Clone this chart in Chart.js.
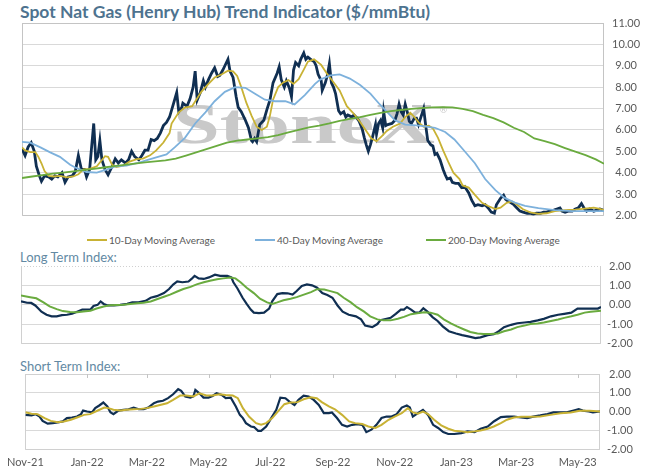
<!DOCTYPE html>
<html>
<head>
<meta charset="utf-8">
<script src="https://cdn.jsdelivr.net/npm/chart.js@4.4.1/dist/chart.umd.min.js"></script>
<style>
  body { margin: 0; background: #fff; font-family: Lato, "Noto Sans", sans-serif; }
  #wrap { position: relative; width: 647px; height: 471px; overflow: hidden; }
  #wrap canvas { position: absolute; left: 0; }
  .title { position: absolute; left: 20px; top: 1px; font-size: 17.5px; font-weight: bold; color: #4e738f; white-space: nowrap; }
  .sub { position: absolute; left: 20px; font-size: 13px; color: #6289a3; white-space: nowrap; }
  .legend { position: absolute; top: 233px; font-size: 10px; color: #595959; white-space: nowrap; line-height: 14px; }
  .legend i { display: inline-block; width: 20px; height: 2px; vertical-align: middle; margin-right: 2px; position: relative; top: -1px; }
</style>
</head>
<body>
<div id="wrap">
  <div class="title">Spot Nat Gas (Henry Hub) Trend Indicator ($/mmBtu)</div>
  <canvas id="mainChart" width="647" height="230" style="top:0"></canvas>
  <div id="legend"></div>
  <div class="sub" style="top:249px">Long Term Index:</div>
  <canvas id="longChart" width="647" height="106" style="top:250px"></canvas>
  <div class="sub" style="top:358px">Short Term Index:</div>
  <canvas id="shortChart" width="647" height="111" style="top:360px"></canvas>
</div>
<script>
// x values are days counted from 1 Nov 2021
const monthDays = [0, 61, 120, 181, 242, 304, 365, 426, 485, 546];
const monthLabels = ['Nov-21', 'Jan-22', 'Mar-22', 'May-22', 'Jul-22', 'Sep-22', 'Nov-22', 'Jan-23', 'Mar-23', 'May-23'];
const lastDay = 568;

// spot price ($/mmBtu)
const spotDays = [0,3,6,9,12,14,17,19,22,26,29,32,35,39,42,45,49,52,55,58,61,63,66,70,72,74,76,78,81,84,88,91,94,97,101,104,107,110,114,117,120,123,126,129,132,135,138,141,144,148,151,153,156,157,161,164,167,169,171,174,177,179,182,185,188,191,193,196,198,201,203,206,209,211,214,218,221,224,225,227,229,232,236,239,242,245,249,251,253,256,258,261,263,265,267,270,272,275,277,279,283,285,287,289,292,293,296,298,300,302,304,306,309,311,314,316,318,322,324,327,329,332,334,336,338,340,342,345,346,348,350,352,353,355,357,361,364,366,368,370,372,374,376,378,380,383,385,387,389,391,392,394,396,399,401,403,405,408,411,413,415,418,420,423,426,429,432,436,439,442,445,449,452,455,458,461,463,467,470,472,475,477,480,483,486,489,493,496,499,502,506,509,512,515,519,522,525,527,530,533,537,540,543,546,549,551,554,558,561,564,567];
const spot = [5.1,4.8,5.2,5.4,5.0,4.3,3.85,3.6,3.85,3.8,3.7,3.85,3.8,4.0,3.55,3.8,3.85,4.05,4.8,4.15,4.15,3.8,4.15,6.3,4.6,4.75,5.5,4.6,4.15,3.9,4.3,4.65,4.45,4.6,4.45,4.6,5.0,4.75,4.6,4.8,5.05,5.05,5.55,5.5,5.6,5.85,6.2,6.35,6.6,7.25,7.75,6.85,7.05,7.25,7.1,7.45,8.0,8.75,7.4,7.75,8.3,8.0,8.35,8.65,8.9,8.5,8.55,8.8,9.0,9.3,8.75,8.45,7.55,7.05,6.85,6.45,6.1,5.5,5.45,5.6,5.45,6.25,6.45,6.95,7.4,8.2,8.65,8.95,8.35,8.0,8.3,7.95,7.55,8.8,9.15,9.0,9.3,9.6,9.3,9.4,9.25,9.2,9.0,8.6,8.3,7.85,8.2,8.55,9.1,8.2,8.0,7.7,6.9,6.75,6.85,6.6,6.7,6.6,6.7,6.55,6.4,6.05,5.65,5.3,5.0,5.3,5.65,6.25,5.8,6.3,6.45,6.1,6.85,6.2,6.25,6.3,6.45,6.75,7.2,6.85,6.7,7.2,6.85,6.4,6.3,6.55,6.55,6.25,6.55,6.85,7.0,6.2,5.5,5.3,5.25,4.85,4.9,4.6,4.15,3.9,3.7,3.75,3.55,3.5,3.5,3.3,3.35,3.05,2.7,2.45,2.5,2.45,2.5,2.35,2.15,2.1,2.5,2.8,2.95,2.75,2.65,2.6,2.5,2.35,2.2,2.15,2.1,2.1,2.05,2.1,2.1,2.15,2.15,2.2,2.25,2.3,2.35,2.2,2.15,2.2,2.2,2.3,2.35,2.55,2.3,2.2,2.3,2.2,2.25,2.3,2.25];

// 10-day moving average
const ma10Days = [0,3,8,13,16,19,22,26,31,37,44,50,55,60,66,73,78,81,84,88,92,99,105,112,118,125,131,138,144,146,153,159,166,171,175,182,188,195,201,206,210,214,219,224,229,234,239,242,245,250,255,260,265,270,275,279,285,292,297,304,310,317,323,330,336,341,346,351,356,362,369,374,379,383,387,392,397,401,406,411,416,421,427,430,436,442,449,455,462,467,473,478,483,489,496,504,512,520,530,540,549,558,564,568];
const ma10 = [5.18,5.04,4.96,4.96,4.74,4.44,4.07,3.85,3.82,3.85,3.78,3.82,3.92,4.15,4.18,4.3,4.59,4.77,4.74,4.37,4.26,4.33,4.52,4.63,4.66,4.81,5.04,5.41,5.85,6.3,6.82,7.04,7.11,7.48,7.78,8.15,8.45,8.6,8.77,8.74,8.52,8.0,7.26,6.67,6.15,6.0,6.15,6.67,7.41,8.0,8.22,8.33,8.15,8.37,8.82,9.19,9.3,9.04,8.67,8.23,7.85,7.11,6.8,6.37,5.95,5.6,5.47,5.7,5.95,6.15,6.3,6.6,6.8,6.6,6.35,6.15,6.2,6.07,5.63,5.04,4.5,4.0,3.7,3.4,3.3,2.96,2.59,2.44,2.3,2.36,2.59,2.66,2.51,2.29,2.14,2.07,2.1,2.2,2.25,2.27,2.32,2.36,2.3,2.25];

// 40-day moving average
const ma40Days = [0,8,18,27,37,47,53,63,73,83,92,102,112,122,131,141,149,159,169,179,188,198,208,218,227,237,247,257,266,276,286,291,301,310,320,330,340,349,356,364,374,388,403,413,422,432,442,452,462,471,481,491,504,520,537,552,568];
const ma40 = [5.44,5.4,5.18,4.96,4.74,4.37,4.22,4.03,4.0,4.15,4.3,4.33,4.44,4.59,4.71,4.85,5.18,5.63,6.3,6.82,7.34,7.78,8.0,7.97,7.7,7.41,7.34,7.34,7.19,7.63,8.15,8.35,8.55,8.6,8.4,8.1,7.7,7.2,6.85,6.45,6.25,6.2,6.1,5.9,5.55,5.0,4.44,3.7,3.18,2.82,2.6,2.45,2.34,2.25,2.2,2.2,2.2];

// 200-day moving average
const ma200Days = [0,10,20,30,40,50,60,70,80,90,100,110,120,130,140,150,160,170,180,190,200,210,220,230,240,250,260,270,280,290,300,310,320,330,340,350,360,370,380,390,400,410,420,430,440,450,460,470,480,490,500,510,520,530,540,550,560,568];
const ma200 = [3.75,3.82,3.88,3.95,4.0,4.06,4.12,4.18,4.24,4.3,4.36,4.42,4.48,4.53,4.57,4.66,4.8,4.95,5.1,5.25,5.4,5.5,5.55,5.6,5.66,5.75,5.88,6.0,6.12,6.2,6.3,6.42,6.52,6.6,6.7,6.8,6.88,6.93,6.98,7.02,7.05,7.06,7.05,6.98,6.88,6.7,6.55,6.35,6.1,5.9,5.6,5.47,5.33,5.15,4.98,4.82,4.62,4.42];

// long term index
const longDays = [0,6,10,14,17,20,25,30,35,40,45,50,55,60,64,68,71,75,78,81,85,91,97,104,109,115,122,127,133,140,145,149,153,158,164,167,170,174,179,184,190,195,202,206,208,212,217,221,225,228,233,238,243,246,251,256,261,266,270,275,280,285,290,295,300,305,310,315,321,328,333,337,344,349,352,357,362,367,372,375,378,382,386,390,394,398,403,408,413,419,426,432,439,445,450,457,463,468,473,480,486,493,499,506,512,519,526,532,539,545,552,558,565,568];
const longIdx = [0.17,0.1,0.09,-0.04,-0.2,-0.36,-0.52,-0.6,-0.6,-0.54,-0.52,-0.47,-0.36,-0.25,-0.25,-0.25,-0.07,-0.01,0.17,0.04,-0.04,-0.04,-0.01,0.04,0.12,0.12,0.2,0.36,0.44,0.6,0.81,1.04,1.2,1.16,1.2,1.33,1.49,1.36,1.33,1.41,1.55,1.49,1.49,1.41,1.16,0.84,0.36,0.04,-0.25,-0.41,-0.44,-0.41,-0.2,0.17,0.55,0.6,0.59,0.52,0.71,0.97,1.05,1.0,0.88,0.6,0.5,0.36,-0.04,-0.36,-0.52,-0.6,-0.76,-1.08,-1.16,-1.0,-0.8,-0.74,-0.68,-0.47,-0.25,-0.25,-0.12,-0.25,-0.41,-0.41,-0.18,-0.36,-0.64,-0.84,-1.12,-1.37,-1.49,-1.57,-1.65,-1.73,-1.69,-1.57,-1.52,-1.37,-1.16,-1.04,-0.96,-0.92,-0.89,-0.81,-0.73,-0.6,-0.52,-0.47,-0.41,-0.2,-0.2,-0.2,-0.2,-0.12];
const longAvgDays = [0,9,15,22,28,35,41,48,55,61,68,74,81,87,94,100,107,114,120,127,133,140,146,153,159,166,172,179,185,192,198,205,210,215,221,228,234,241,246,251,257,264,270,277,284,290,297,303,310,316,323,329,336,342,349,355,362,369,375,382,388,395,401,408,414,421,427,434,440,447,453,460,467,473,480,486,493,499,506,512,519,526,532,539,545,552,558,568];
const longAvg = [0.47,0.39,0.33,0.12,-0.09,-0.23,-0.33,-0.38,-0.39,-0.35,-0.31,-0.2,-0.09,-0.03,-0.01,0.0,0.04,0.07,0.1,0.17,0.28,0.41,0.52,0.68,0.81,0.92,1.05,1.16,1.24,1.31,1.36,1.41,1.36,1.16,0.88,0.6,0.31,0.12,0.04,0.12,0.23,0.31,0.39,0.52,0.65,0.8,0.78,0.7,0.6,0.36,0.12,-0.13,-0.36,-0.6,-0.76,-0.81,-0.81,-0.73,-0.63,-0.49,-0.44,-0.39,-0.41,-0.52,-0.76,-0.96,-1.12,-1.28,-1.41,-1.49,-1.52,-1.52,-1.49,-1.37,-1.28,-1.16,-1.08,-1.0,-0.97,-0.92,-0.84,-0.76,-0.68,-0.6,-0.52,-0.41,-0.36,-0.31];

// short term index
const shortDays = [0,6,10,14,17,22,27,32,37,41,46,51,55,57,61,66,69,73,77,81,84,87,92,97,102,107,112,117,122,127,131,136,141,146,151,154,158,163,166,168,172,176,181,185,189,194,198,203,208,212,215,218,223,226,230,233,238,243,248,252,257,261,266,270,275,280,285,290,295,300,303,308,313,318,323,328,333,337,342,347,352,357,362,367,372,377,380,383,388,393,398,403,408,413,418,424,431,437,444,450,457,463,470,476,483,490,496,502,509,516,522,529,535,541,547,551,557,561,568];
const shortIdx = [-0.18,-0.21,-0.14,-0.27,-0.5,-0.65,-0.62,-0.58,-0.53,-0.35,-0.32,-0.27,-0.14,0.05,0.0,-0.04,0.18,0.32,0.48,0.27,-0.04,-0.14,0.05,0.09,0.12,0.21,0.12,0.12,0.23,0.44,0.53,0.57,0.71,0.92,1.19,1.1,0.8,0.74,0.8,1.15,0.97,0.74,0.74,0.83,0.97,0.88,0.71,0.74,0.27,-0.18,-0.35,-0.62,-0.8,-0.83,-1.03,-1.03,-0.8,-0.35,0.09,0.74,0.71,0.53,0.35,0.62,0.85,0.8,0.62,0.35,-0.09,-0.09,-0.05,-0.35,-0.71,-0.8,-0.71,-0.67,-0.71,-1.1,-0.97,-0.71,-0.35,-0.27,-0.27,-0.14,0.21,0.32,0.21,-0.27,-0.09,0.09,-0.18,-0.71,-0.88,-1.1,-1.2,-1.2,-1.15,-1.06,-1.1,-0.92,-0.8,-0.53,-0.3,-0.27,-0.27,-0.32,-0.35,-0.27,-0.21,-0.14,-0.05,-0.05,-0.04,0.04,0.12,0.05,0.0,-0.05,0.0];
const shortAvgDays = [0,6,12,19,25,32,38,45,51,58,64,71,78,82,87,94,100,107,114,120,127,133,140,146,153,159,166,172,179,185,192,198,205,210,215,221,228,233,238,244,251,256,262,269,275,282,288,293,300,306,313,320,326,333,339,346,352,359,365,372,378,383,388,393,398,404,411,418,424,431,437,444,450,457,463,470,476,483,490,499,509,519,529,539,548,558,568];
const shortAvg = [-0.04,-0.12,-0.14,-0.35,-0.5,-0.57,-0.53,-0.44,-0.32,-0.18,-0.14,0.04,0.21,0.18,0.09,0.05,0.09,0.12,0.14,0.18,0.27,0.35,0.44,0.62,0.85,0.85,0.8,0.97,0.85,0.85,0.92,0.88,0.85,0.71,0.18,-0.27,-0.62,-0.71,-0.62,-0.35,0.09,0.39,0.48,0.5,0.65,0.76,0.71,0.5,0.27,0.12,-0.18,-0.53,-0.62,-0.67,-0.8,-0.88,-0.71,-0.44,-0.27,-0.09,0.18,-0.05,-0.12,0.0,-0.14,-0.44,-0.74,-0.92,-1.03,-1.06,-1.1,-1.06,-1.01,-0.92,-0.8,-0.62,-0.44,-0.32,-0.28,-0.28,-0.27,-0.18,-0.09,-0.05,0.04,0.04,0.0];

const NAVY = '#102f52', GOLD = '#c8b234', BLUE = '#7db1dc', GREEN = '#6aab3f';
const tickFont = { family: 'Lato', size: 11 };
const tickColor = '#595959';

const pts = (xs, ys) => xs.map((x, i) => ({ x: x, y: ys[i] }));

function line(label, xs, ys, color, width, order) {
    return { label: label, data: pts(xs, ys), borderColor: color, backgroundColor: color,
             borderWidth: width, pointRadius: 0, tension: 0, order: order };
}

// box round the plot area, top edge can be dotted
const framePlugin = {
    id: 'frame',
    beforeDatasetsDraw(chart, args, opts) {
        const { ctx, chartArea: a } = chart;
        ctx.save();
        ctx.strokeStyle = opts.color || '#c4c4c4';
        ctx.lineWidth = 1;
        ctx.beginPath();
        ctx.moveTo(Math.round(a.left) + 0.5, a.top);
        ctx.lineTo(Math.round(a.left) + 0.5, Math.round(a.bottom) + 0.5);
        ctx.lineTo(Math.round(a.right) - 0.5, Math.round(a.bottom) + 0.5);
        ctx.lineTo(Math.round(a.right) - 0.5, a.top);
        ctx.stroke();
        ctx.setLineDash(opts.topDash || []);
        ctx.beginPath();
        ctx.moveTo(a.left, Math.round(a.top) + 0.5);
        ctx.lineTo(a.right, Math.round(a.top) + 0.5);
        ctx.stroke();
        ctx.restore();
    }
};

// grey watermark behind the lines
const watermark = {
    id: 'watermark',
    beforeDatasetsDraw(chart) {
        const { ctx, chartArea: a } = chart;
        ctx.save();
        ctx.font = 'bold 58px "Liberation Serif"';
        ctx.fillStyle = '#c9c9c9';
        const w = ctx.measureText('StoneX').width;
        ctx.translate(a.left + 151, a.top + 120);
        ctx.scale(262 / w, 1);
        ctx.fillText('StoneX', 0, 0);
        ctx.restore();
        ctx.save();
        ctx.font = '9px "DejaVu Sans"';
        ctx.fillStyle = '#c9c9c9';
        ctx.fillText('\u00ae', a.left + 417, a.top + 90);
        ctx.restore();
    }
};

// little tick marks hanging from the top edge of the short panel
const topTicks = {
    id: 'topTicks',
    beforeDatasetsDraw(chart) {
        const { ctx, chartArea: a, scales } = chart;
        ctx.save();
        ctx.strokeStyle = '#c4c4c4';
        ctx.lineWidth = 1;
        monthDays.slice(1).forEach(d => {
            const px = Math.round(scales.x.getPixelForValue(d)) + 0.5;
            ctx.beginPath();
            ctx.moveTo(px, a.top);
            ctx.lineTo(px, a.top + 4);
            ctx.stroke();
        });
        ctx.restore();
    }
};

function yAxis(min, max, width, pad, hideTop) {
    return {
        position: 'right', min: min, max: max,
        afterFit(s) { s.width = width; },
        ticks: { stepSize: 1, font: tickFont, color: tickColor, padding: pad, crossAlign: 'center',
                 callback: v => v.toFixed(2) },
        grid: { drawTicks: false,
                color: c => (hideTop && c.tick && c.tick.value === max) ? 'rgba(0,0,0,0)' : '#d9d9d9' },
        border: { display: false }
    };
}

function baseOptions(padding, yOpts, xOpts, frameOpts) {
    return {
        responsive: false, animation: false, events: [],
        layout: { padding: padding },
        scales: { x: xOpts, y: yOpts },
        plugins: { legend: { display: false }, tooltip: { enabled: false }, frame: frameOpts }
    };
}

const hiddenX = { type: 'linear', min: 0, max: lastDay, display: false };

// main price chart
const mainSets = [
    line('Spot', spotDays, spot, NAVY, 2.8, 4),
    line('10-Day Moving Average', ma10Days, ma10, GOLD, 1.8, 3),
    line('40-Day Moving Average', ma40Days, ma40, BLUE, 1.8, 2),
    line('200-Day Moving Average', ma200Days, ma200, GREEN, 1.8, 1)
];
new Chart(document.getElementById('mainChart'), {
    type: 'line',
    data: { datasets: mainSets },
    options: baseOptions({ top: 23, left: 22, right: 0, bottom: 5 }, yAxis(2, 11, 43, 8, false), hiddenX, { color: '#c4c4c4' }),
    plugins: [framePlugin, watermark]
});

// legend for the moving averages
const legendLefts = [87, 255, 426];
const legendBox = document.getElementById('legend');
mainSets.slice(1).forEach((ds, i) => {
    const item = document.createElement('div');
    item.className = 'legend';
    item.style.left = legendLefts[i] + 'px';
    item.innerHTML = '<i style="background:' + ds.borderColor + '"></i>' + ds.label;
    legendBox.appendChild(item);
});

// long term index
new Chart(document.getElementById('longChart'), {
    type: 'line',
    data: { datasets: [
        line('Long Term Index', longDays, longIdx, NAVY, 2.2, 2),
        line('Long Term Average', longAvgDays, longAvg, GREEN, 2, 1)
    ] },
    options: baseOptions({ top: 16, left: 21, right: 0, bottom: 7 }, yAxis(-2, 2, 46, 6, true), hiddenX, { color: '#d0d0d0', topDash: [1, 2] }),
    plugins: [framePlugin]
});

// short term index
new Chart(document.getElementById('shortChart'), {
    type: 'line',
    data: { datasets: [
        line('Short Term Index', shortDays, shortIdx, NAVY, 2.2, 2),
        line('Short Term Average', shortAvgDays, shortAvg, GOLD, 2, 1)
    ] },
    options: baseOptions({ top: 14, left: 21, right: 0, bottom: 2 }, yAxis(-2, 2, 47, 7, false), {
        type: 'linear', min: 0, max: lastDay,
        afterFit(s) { s.height = 20; },
        afterBuildTicks(s) { s.ticks = monthDays.map(v => ({ value: v })); },
        ticks: { autoSkip: false, maxRotation: 0, font: tickFont, color: tickColor, padding: 7,
                 callback: v => monthLabels[monthDays.indexOf(v)] },
        grid: { display: false, drawTicks: false },
        border: { display: false }
    }, { color: '#d0d0d0' }),
    plugins: [framePlugin, topTicks]
});
</script>
</body>
</html>
